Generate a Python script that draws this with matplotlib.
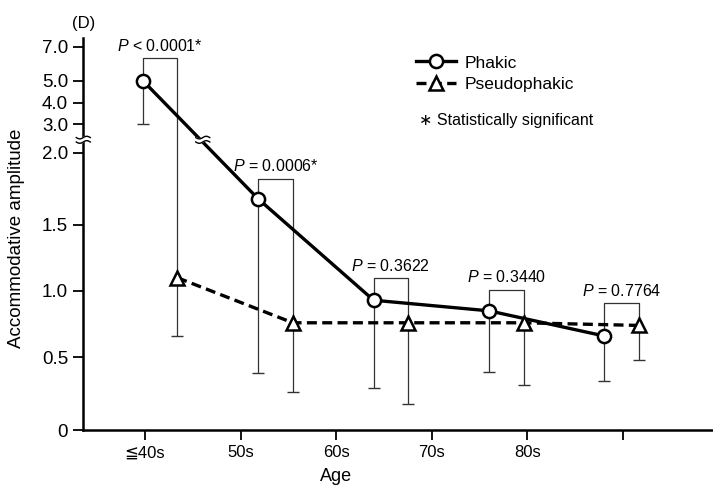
import numpy as np
import matplotlib
matplotlib.use("Agg")
import matplotlib.pyplot as plt
from matplotlib.transforms import ScaledTranslation

# data
groups = ["≦40s", "50s", "60s", "70s", "80s", ""]
phakic = [5.0, 1.68, 0.93, 0.85, 0.66]
phakic_low = [3.0, 0.39, 0.29, 0.40, 0.34]
pseudo = [1.10, 0.76, 0.76, 0.76, 0.74]
pseudo_low = [0.66, 0.26, 0.18, 0.31, 0.48]
p_labels = ["$P$ < 0.0001*", "$P$ = 0.0006*", "$P$ = 0.3622",
            "$P$ = 0.3440", "$P$ = 0.7764"]
bracket_top = [6.3, 1.82, 1.10, 1.01, 0.91]

yticks = [0, 0.5, 1.0, 1.5, 2.0, 3.0, 4.0, 5.0, 7.0]
yticklabels = ["0", "0.5", "1.0", "1.5", "2.0", "3.0", "4.0", "5.0", "7.0"]

# broken y axis: value -> height above x axis (drawn by hand in the original)
scale_vals = [-1, 0, 0.5, 1.0, 1.5, 2.0, 3.0, 4.0, 5.0, 7.0, 8.0]
scale_px = [-139, 0, 72.7, 139, 205, 277.3, 305.7, 327.3, 349.3, 383.3, 400.3]


def fwd(v):
    return np.interp(v, scale_vals, scale_px)


def inv(p):
    return np.interp(p, scale_px, scale_vals)


plt.rcParams['font.family'] = ['Liberation Sans', 'DejaVu Sans', 'Noto Sans CJK JP']
plt.rcParams['mathtext.fontset'] = 'custom'
plt.rcParams['mathtext.it'] = 'Liberation Sans:italic'
plt.rcParams['mathtext.rm'] = 'Liberation Sans'

fig = plt.figure(figsize=(7.13, 4.86), dpi=100)
ax = fig.add_axes([0.1168, 0.1152, 0.8832, 0.8066])
ax.set_yscale('function', functions=(fwd, inv))

n = len(phakic)
xp = np.arange(n)
xq = xp + 0.3

# p-value brackets
for i in range(n):
    ax.plot([xp[i], xp[i], xq[i], xq[i]],
            [phakic[i], bracket_top[i], bracket_top[i], pseudo[i]],
            color='#333333', lw=0.9, zorder=1)
    ax.annotate(p_labels[i], ((xp[i] + xq[i]) / 2, bracket_top[i]),
                xytext=(0, 3), textcoords='offset points',
                ha='center', va='bottom', fontsize=11.5)

# lower error bars
ax.vlines(xp, phakic_low, phakic, color='#333333', lw=0.9, zorder=1)
ax.plot(xp, phakic_low, ls='none', marker='_', ms=9, mew=1, color='#333333')
ax.vlines(xq, pseudo_low, pseudo, color='#333333', lw=0.9, zorder=1)
ax.plot(xq, pseudo_low, ls='none', marker='_', ms=9, mew=1, color='#333333')

ax.plot(xp, phakic, '-', color='black', lw=2.4, marker='o', ms=9.5,
        mfc='white', mew=1.8, zorder=4, label='Phakic')
ax.plot(xq, pseudo, color='black', lw=2.4, dashes=(3, 1.6), marker='^',
        ms=10, mfc='white', mew=1.8, zorder=4, label='Pseudophakic')

ax.set_xlim(-0.515, 4.94)
ax.set_ylim(0, 7.5)
ax.set_xticks(np.arange(6) * 0.8276 + 0.02)
ax.set_xticklabels(groups)
ax.set_yticks(yticks)
ax.set_yticklabels(yticklabels)
ax.tick_params(direction='out', length=7, width=1.3, labelsize=12, pad=4)
ax.tick_params(axis='y', labelsize=13.5)
for s in ['top', 'right']:
    ax.spines[s].set_visible(False)
for s in ['left', 'bottom']:
    ax.spines[s].set_linewidth(1.8)

ax.set_xlabel('Age', fontsize=13)
ax.xaxis.set_label_coords(0.402, -0.097)
ax.set_ylabel('Accommodative amplitude', fontsize=13.5)
ax.yaxis.set_label_coords(-0.092, 0.49)


def break_mark(xv, yv, transform):
    tr = fig.dpi_scale_trans + ScaledTranslation(xv, yv, transform)
    t = np.linspace(-1, 1, 40)
    bx = t * 0.07
    by = 0.013 * np.sin(np.pi * t)
    g = 0.022
    ax.fill(np.r_[bx, bx[::-1]], np.r_[by + g, by[::-1] - g], color='white',
            transform=tr, clip_on=False, zorder=5)
    for off in (g, -g):
        ax.plot(bx, by + off, color='black', lw=1, transform=tr,
                clip_on=False, zorder=6)


break_mark(0, 2.45, ax.get_yaxis_transform())
break_mark(0.52, 2.45, ax.transData)

leg = ax.legend(loc='upper left', bbox_to_anchor=(0.583, 0.886),
                bbox_transform=fig.transFigure, frameon=False, fontsize=12.5,
                handlelength=2.3, handletextpad=0.5, labelspacing=0.35,
                borderpad=0, borderaxespad=0)
fig.text(0.588, 0.752, "∗ Statistically significant", fontsize=11.5,
         va='center', ha='left')
fig.text(0.117, 0.952, "(D)", fontsize=12, ha='center', va='center')

fig.savefig("out.png", dpi=100)
